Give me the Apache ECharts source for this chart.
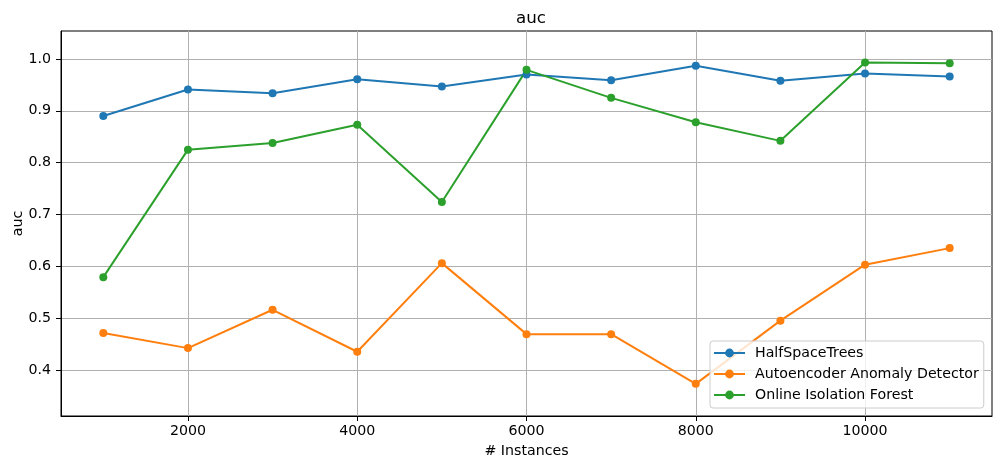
<!DOCTYPE html>
<html>
<head>
<meta charset="utf-8">
<script src="https://cdn.jsdelivr.net/npm/echarts@6/dist/echarts.min.js"></script>
<style>
    html, body { margin: 0; padding: 0; background: #fff; }
    #chart { width: 1001px; height: 469px; }
</style>
</head>
<body>
<div id="chart"></div>
<script>
// Values
const instances = [1000, 2000, 3000, 4000, 5000, 6000, 7000, 8000, 9000, 10000, 11000];
const halfSpaceTrees = [0.890, 0.941, 0.934, 0.961, 0.947, 0.970, 0.959, 0.987, 0.958, 0.972, 0.966];
const autoencoder = [0.471, 0.442, 0.516, 0.435, 0.606, 0.469, 0.469, 0.373, 0.495, 0.603, 0.635];
const isolationForest = [0.579, 0.825, 0.838, 0.873, 0.724, 0.979, 0.925, 0.878, 0.842, 0.993, 0.992];
const xTicks = [2000, 4000, 6000, 8000, 10000];
const yTicks = [0.4, 0.5, 0.6, 0.7, 0.8, 0.9, 1.0];

const font = 'DejaVu Sans';

function makeSeries(name, values, color) {
    return {
        name: name,
        type: 'line',
        data: instances.map((x, i) => [x, values[i]]),
        symbol: 'circle',
        symbolSize: 8,
        lineStyle: { color: color, width: 2 },
        itemStyle: { color: color },
        emphasis: { disabled: true },
        animation: false
    };
}

const chart = echarts.init(document.getElementById('chart'));
chart.setOption({
    animation: false,
    title: {
        text: 'auc',
        left: 526,
        top: 5,
        textAlign: 'center',
        textStyle: { fontFamily: font, fontSize: 16.7, fontWeight: 'normal', color: '#000' }
    },
    grid: {
        left: 61, right: 9, top: 31, bottom: 53,
        outerBoundsMode: 'none',
        containLabel: false,
        show: true, borderColor: '#000', borderWidth: 1
    },
    legend: {
        orient: 'vertical',
        left: 710, top: 341,
        padding: [5, 5, 6, 3],
        itemWidth: 31, itemHeight: 11, itemGap: 7,
        backgroundColor: 'rgba(255,255,255,0.8)',
        borderColor: '#cccccc', borderWidth: 1, borderRadius: 3,
        textStyle: { fontFamily: font, fontSize: 14.2, lineHeight: 14, color: '#000', padding: [0, 0, 0, 5] },
        data: ['HalfSpaceTrees', 'Autoencoder Anomaly Detector', 'Online Isolation Forest']
    },
    xAxis: {
        type: 'value',
        min: 500, max: 11500,
        name: '# Instances',
        nameLocation: 'middle',
        nameGap: 28,
        nameMoveOverlap: false,
        nameTextStyle: { fontFamily: font, fontSize: 14.2, color: '#000' },
        axisLine: { show: true, lineStyle: { color: '#000' } },
        axisTick: { show: true, length: 5, inside: false, customValues: xTicks, lineStyle: { color: '#000' } },
        axisLabel: {
            customValues: xTicks, margin: 8, fontFamily: font, fontSize: 14.2, color: '#000',
            formatter: v => String(v)
        },
        splitLine: { show: true, lineStyle: { color: '#b0b0b0', width: 1 } }
    },
    yAxis: {
        type: 'value',
        min: 0.311, max: 1.054,
        name: 'auc',
        nameLocation: 'middle',
        nameGap: 36,
        nameMoveOverlap: false,
        nameTextStyle: { fontFamily: font, fontSize: 14.2, color: '#000' },
        axisLine: { show: true, lineStyle: { color: '#000' } },
        axisTick: { show: true, length: 5, inside: false, customValues: yTicks, lineStyle: { color: '#000' } },
        axisLabel: {
            customValues: yTicks, margin: 10, fontFamily: font, fontSize: 14.2, color: '#000',
            formatter: v => v.toFixed(1)
        },
        splitLine: { show: true, lineStyle: { color: '#b0b0b0', width: 1 } }
    },
    series: [
        makeSeries('HalfSpaceTrees', halfSpaceTrees, '#1f77b4'),
        makeSeries('Autoencoder Anomaly Detector', autoencoder, '#ff7f0e'),
        makeSeries('Online Isolation Forest', isolationForest, '#2ca02c')
    ]
});
</script>
</body>
</html>
